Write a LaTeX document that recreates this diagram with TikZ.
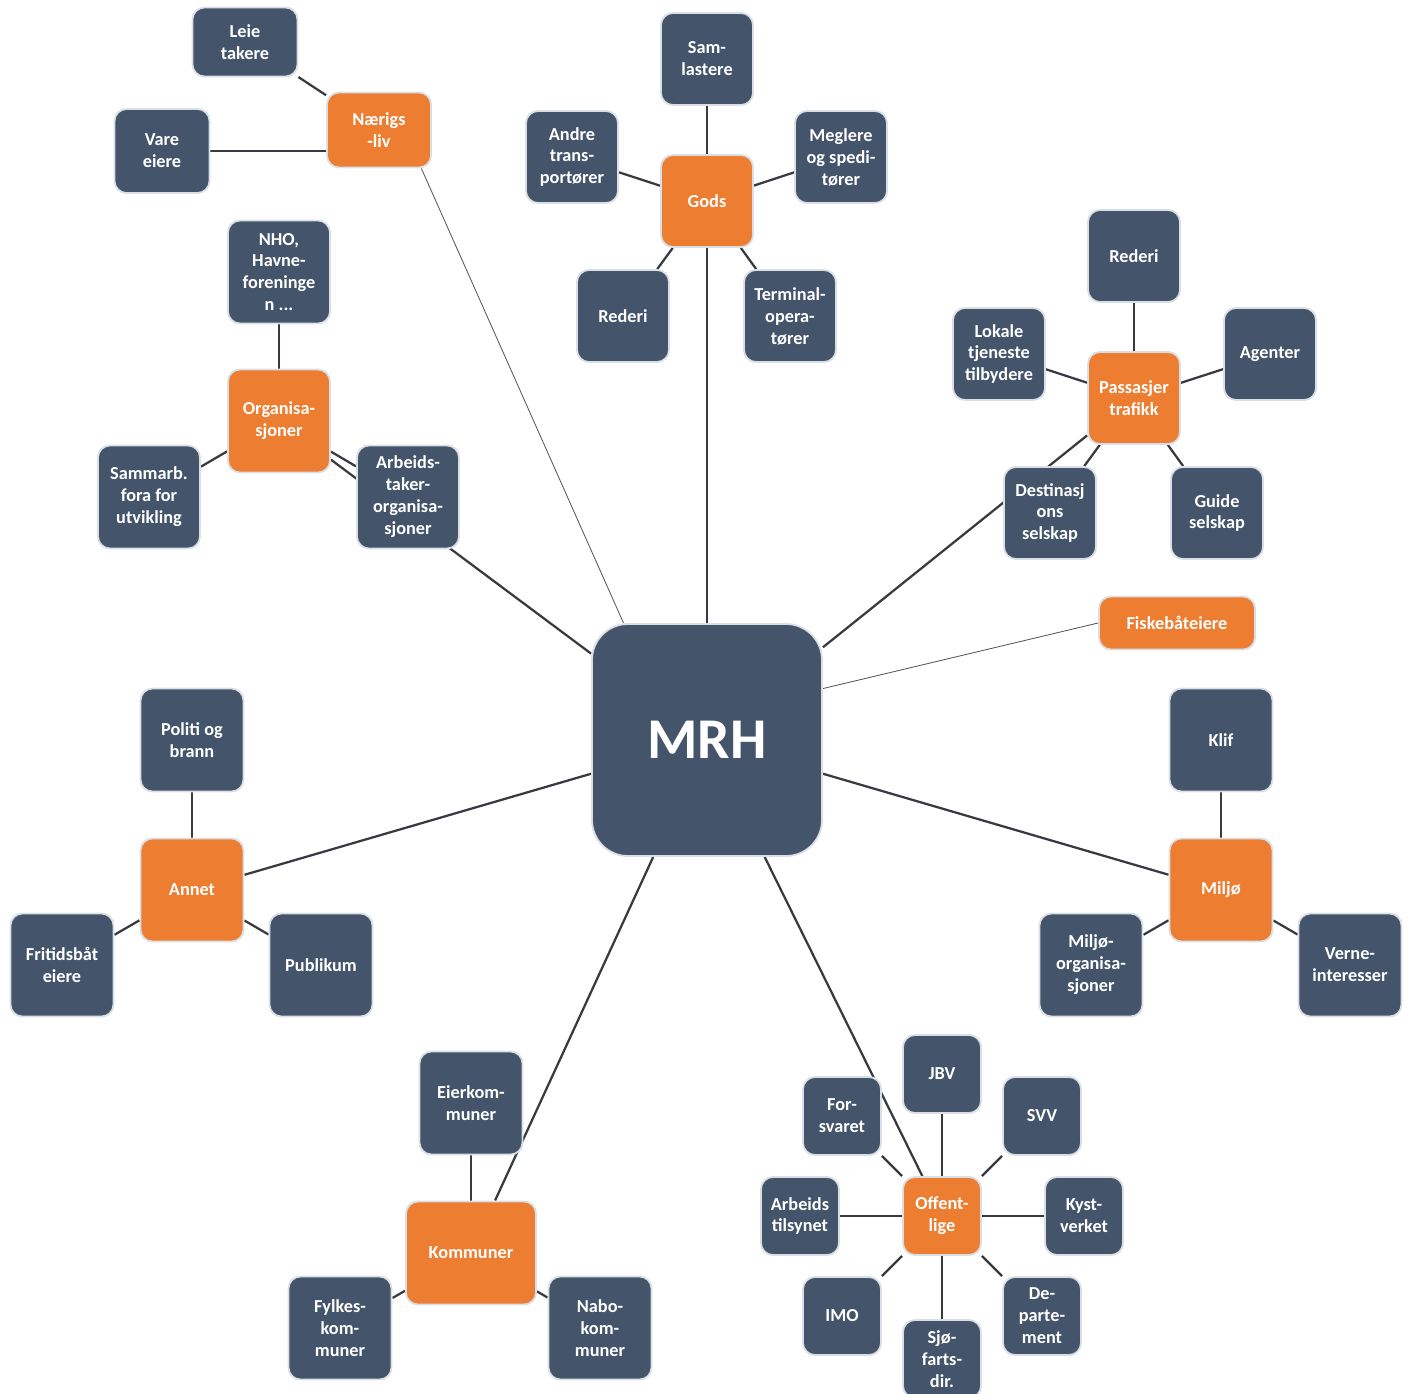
\documentclass[tikz,border=0pt]{standalone}
\usepackage{fontspec}
\setmainfont{Carlito}
\usepackage{tikz}
\usetikzlibrary{backgrounds,calc}
\definecolor{mrhnavy}{RGB}{68,84,106}
\definecolor{mrhorange}{RGB}{237,125,49}
\definecolor{mrhline}{RGB}{55,58,64}
\definecolor{mrhhalo}{RGB}{218,223,230}

\tikzset{
  box/.style={rounded corners=0.3cm, draw=mrhhalo, line width=1.3pt, text=white,
    font=\bfseries\fontsize{13}{15.6}\selectfont, align=center, inner sep=1pt},
  leaf/.style={box, fill=mrhnavy, minimum width=2.3cm, minimum height=2.3cm},
  hub/.style={box, fill=mrhorange, minimum width=2.3cm, minimum height=2.3cm},
  bigleaf/.style={leaf, minimum width=2.575cm, minimum height=2.575cm},
  bighub/.style={hub, minimum width=2.575cm, minimum height=2.575cm},
  smallleaf/.style={leaf, minimum width=1.95cm, minimum height=1.95cm},
  smallhub/.style={hub, minimum width=1.95cm, minimum height=1.95cm},
  spoke/.style={mrhline, line width=1.6pt},
  thinspoke/.style={mrhline!85, line width=0.6pt},
}

\begin{document}
\begin{tikzpicture}[x=0.025cm, y=-0.025cm]
\useasboundingbox (0,0) rectangle (1415,1394);

% Centre
\node[box, fill=mrhnavy, rounded corners=0.9cm, minimum width=5.75cm, minimum height=5.8cm,
  font=\bfseries\fontsize{41}{45}\selectfont] (mrh) at (707,740) {MRH};

% Naeringsliv
\node[hub, minimum width=2.6cm, minimum height=1.875cm] (naer) at (379,130) {Nærigs\\-liv};
\node[leaf, minimum width=2.625cm, minimum height=1.725cm] (leie) at (245,42) {Leie\\takere};
\node[leaf, minimum width=2.375cm, minimum height=2.1cm] (vare) at (162,151) {Vare\\eiere};

% Gods
\node[hub] (gods) at (707,201) {Gods};
\node[leaf] (samlast) at (707,59) {Sam-\\lastere};
\node[leaf] (andre) at (572,157) {Andre\\trans-\\portører};
\node[leaf] (megl) at (841,157) {Meglere\\og spedi-\\tører};
\node[leaf] (godsrederi) at (623,316) {Rederi};
\node[leaf] (term) at (790,316) {Terminal-\\opera-\\tører};

% Organisasjoner
\node[bighub, minimum width=2.55cm] (org) at (279,421) {Organisa-\\sjoner};
\node[bigleaf, minimum width=2.55cm] (nho) at (279,272) {NHO,\\Havne-\\foreninge\\n ...};
\node[bigleaf, minimum width=2.55cm] (samarb) at (149,497) {Sammarb.\\fora for\\utvikling};
\node[bigleaf, minimum width=2.55cm] (arbtaker) at (408,497) {Arbeids-\\taker-\\organisa-\\sjoner};

% Passasjertrafikk
\node[hub] (pass) at (1134,398) {Passasjer\\trafikk};
\node[leaf] (passrederi) at (1134,256) {Rederi};
\node[leaf] (lokale) at (999,354) {Lokale\\tjeneste\\tilbydere};
\node[leaf] (agent) at (1270,354) {Agenter};
\node[leaf] (dest) at (1050,513) {Destinasj\\ons\\selskap};
\node[leaf] (guide) at (1217,513) {Guide\\selskap};

% Fiskebaateiere
\node[hub, minimum width=3.9cm, minimum height=1.325cm] (fisk) at (1177,623) {Fiskebåteiere};

% Annet
\node[bighub] (annet) at (192,890) {Annet};
\node[bigleaf] (politi) at (192,740) {Politi og\\brann};
\node[bigleaf] (fritid) at (62,965) {Fritidsbåt\\eiere};
\node[bigleaf] (publ) at (321,965) {Publikum};

% Miljo
\node[bighub] (miljo) at (1221,890) {Miljø};
\node[bigleaf] (klif) at (1221,740) {Klif};
\node[bigleaf] (miljoorg) at (1091,965) {Miljø-\\organisa-\\sjoner};
\node[bigleaf] (verne) at (1350,965) {Verne-\\interesser};

% Kommuner
\node[bighub, minimum width=3.25cm] (komm) at (471,1253) {Kommuner};
\node[bigleaf] (eier) at (471,1103) {Eierkom-\\muner};
\node[bigleaf] (fylke) at (340,1328) {Fylkes-\\kom-\\muner};
\node[bigleaf] (nabo) at (600,1328) {Nabo-\\kom-\\muner};

% Offentlige
\node[smallhub] (off) at (942,1216) {Offent-\\lige};
\node[smallleaf] (jbv) at (942,1074) {JBV};
\node[smallleaf] (forsv) at (842,1116) {For-\\svaret};
\node[smallleaf] (svv) at (1042,1116) {SVV};
\node[smallleaf] (arbtils) at (800,1216) {Arbeids\\tilsynet};
\node[smallleaf] (kyst) at (1084,1216) {Kyst-\\verket};
\node[smallleaf] (imo) at (842,1316) {IMO};
\node[smallleaf] (sjofart) at (942,1359) {Sjø-\\farts-\\dir.};
\node[smallleaf] (dep) at (1042,1316) {De-\\parte-\\ment};

% Connectors behind the boxes
\begin{scope}[on background layer]
  \draw[thinspoke] ($(naer.south)!0.8!(naer.south east)$) -- ($(mrh.north west)!0.14!(mrh.north east)$);
  \draw[thinspoke] ($(mrh.north east)!0.28!(mrh.south east)$) -- (fisk.west);
  \foreach \hub in {gods,org,pass,annet,miljo,komm,off}
    \draw[spoke] (mrh) -- (\hub);
  \draw[spoke] (naer) -- (leie);
  \draw[spoke] (vare) -- (vare -| naer);
  \foreach \leaf in {samlast,andre,megl,godsrederi,term}
    \draw[spoke] (gods) -- (\leaf);
  \foreach \leaf in {nho,samarb,arbtaker}
    \draw[spoke] (org) -- (\leaf);
  \foreach \leaf in {passrederi,lokale,agent,dest,guide}
    \draw[spoke] (pass) -- (\leaf);
  \foreach \leaf in {politi,fritid,publ}
    \draw[spoke] (annet) -- (\leaf);
  \foreach \leaf in {klif,miljoorg,verne}
    \draw[spoke] (miljo) -- (\leaf);
  \foreach \leaf in {eier,fylke,nabo}
    \draw[spoke] (komm) -- (\leaf);
  \foreach \leaf in {jbv,forsv,svv,arbtils,kyst,imo,sjofart,dep}
    \draw[spoke] (off) -- (\leaf);
\end{scope}
\end{tikzpicture}
\end{document}
